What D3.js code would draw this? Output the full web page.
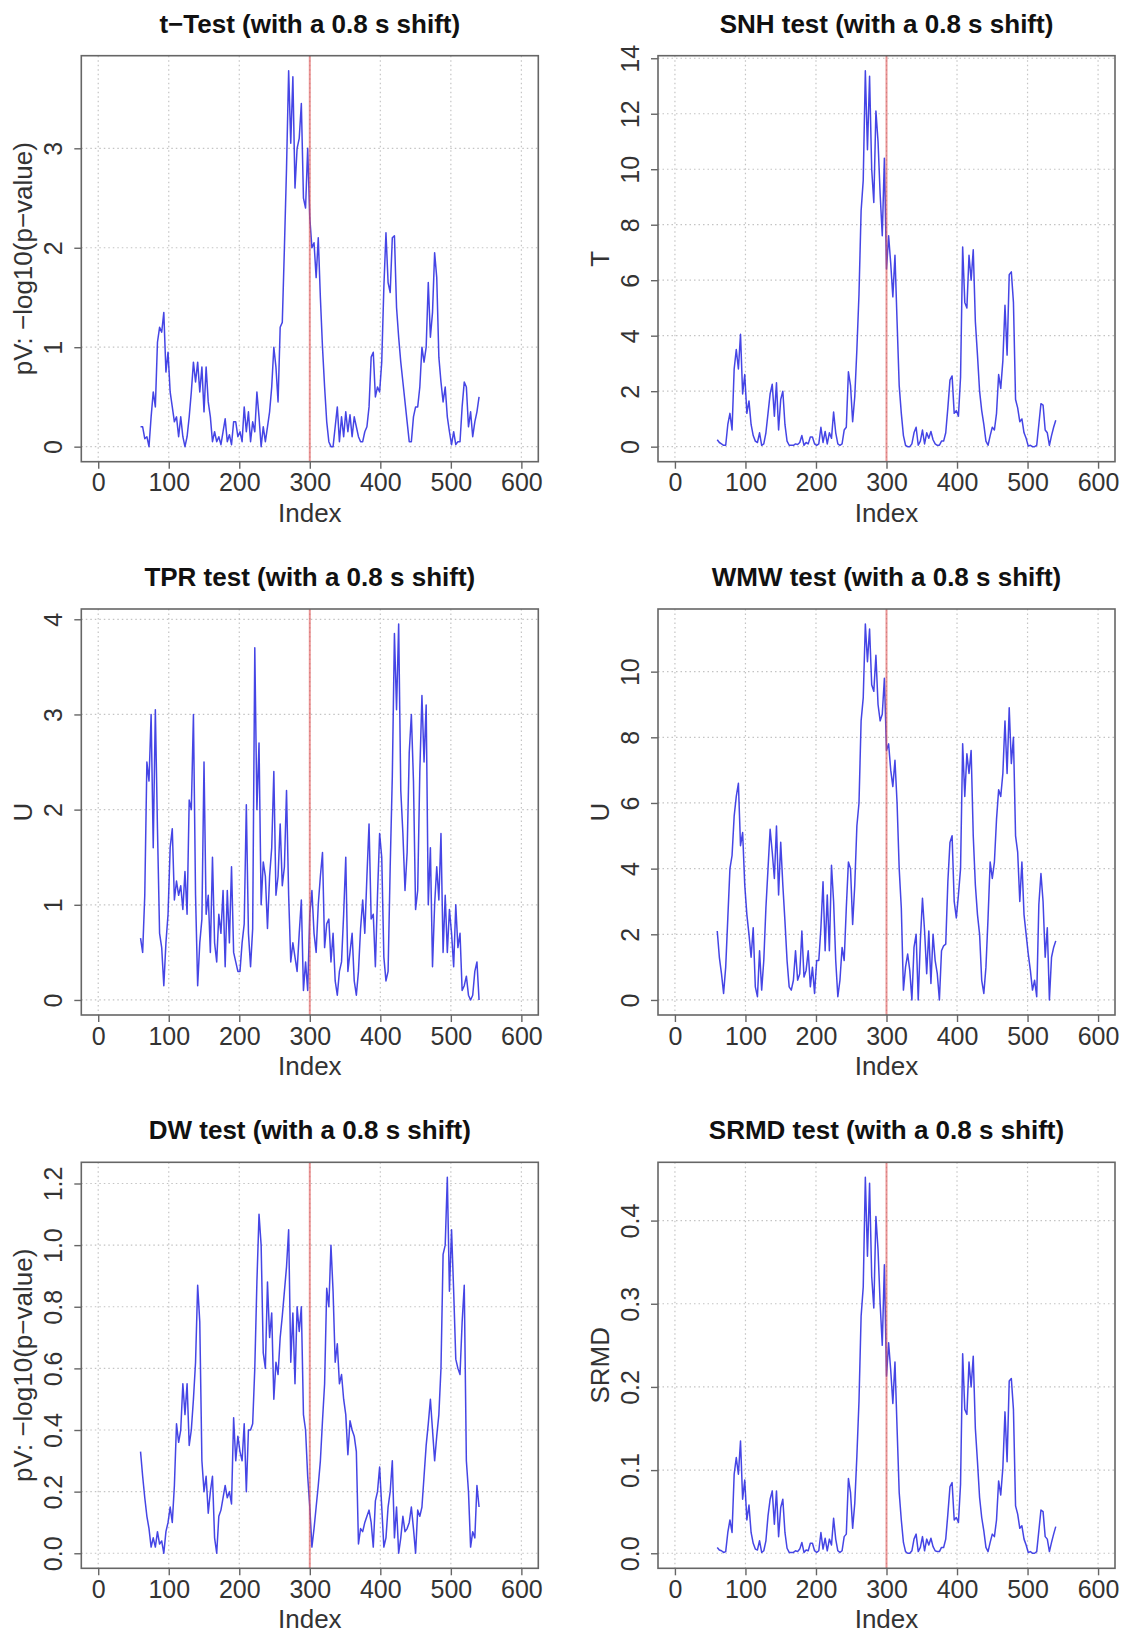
<!DOCTYPE html>
<html>
<head>
<meta charset="utf-8">
<script src="https://cdn.jsdelivr.net/npm/d3@7"></script>
<style>
  body { margin: 0; background: #fff; }
  svg { display: block; font-family: "Liberation Sans", Arial, Helvetica, sans-serif; }
</style>
</head>
<body>
<svg width="1128" height="1634"></svg>
<script>
// values, one every 3rd index, starting at index 60
var firstIndex = 60, indexStep = 3;

var tTest = [
  0.20,0.20,0.08,0.10,0.00,0.30,0.55,0.40,1.05,1.20,
  1.15,1.35,0.75,0.95,0.55,0.40,0.25,0.30,0.10,0.30,
  0.10,0.00,0.10,0.30,0.55,0.85,0.65,0.85,0.55,0.80,
  0.35,0.80,0.45,0.30,0.05,0.15,0.05,0.10,0.02,0.15,
  0.28,0.05,0.12,0.02,0.25,0.25,0.10,0.15,0.05,0.40,
  0.15,0.35,0.05,0.25,0.15,0.55,0.30,0.00,0.20,0.05,
  0.20,0.35,0.60,1.00,0.80,0.45,1.20,1.25,2.00,2.80,
  3.78,3.05,3.72,2.60,3.00,3.10,3.45,2.50,2.40,3.00,
  2.30,2.00,2.05,1.70,2.10,1.50,1.00,0.60,0.25,0.05,
  0.00,0.00,0.20,0.40,0.05,0.30,0.10,0.35,0.15,0.32,
  0.10,0.30,0.20,0.10,0.05,0.05,0.15,0.20,0.40,0.90,
  0.95,0.50,0.60,0.55,0.85,1.60,2.15,1.65,1.55,2.10,
  2.12,1.40,1.10,0.85,0.65,0.45,0.25,0.05,0.05,0.30,
  0.40,0.40,0.60,1.00,0.85,1.00,1.65,1.10,1.35,1.95,
  1.70,0.90,0.65,0.45,0.60,0.30,0.15,0.02,0.15,0.02,
  0.05,0.05,0.40,0.65,0.60,0.20,0.35,0.10,0.25,0.35,
  0.50
];

var snh = [
  0.25,0.15,0.10,0.05,0.05,0.80,1.20,0.60,2.80,3.50,
  2.80,4.05,1.90,2.60,1.20,1.65,0.80,0.40,0.20,0.15,
  0.50,0.05,0.10,0.50,1.20,1.90,2.25,1.10,2.30,0.60,
  1.70,2.00,0.80,0.20,0.05,0.05,0.05,0.10,0.08,0.15,
  0.40,0.05,0.15,0.10,0.35,0.35,0.10,0.05,0.10,0.70,
  0.15,0.55,0.10,0.50,0.30,1.25,0.50,0.10,0.05,0.10,
  0.60,0.70,2.70,2.20,0.90,1.80,3.50,5.50,8.50,9.60,
  13.55,10.70,13.35,10.00,8.80,12.10,11.00,9.10,7.60,10.40,
  6.40,7.60,6.60,5.40,6.90,4.50,2.20,1.20,0.40,0.05,
  0.00,0.00,0.10,0.50,0.70,0.05,0.20,0.60,0.10,0.50,
  0.30,0.55,0.25,0.10,0.05,0.05,0.20,0.20,0.50,1.40,
  2.40,2.55,1.20,1.30,1.10,2.50,7.20,5.20,5.00,6.90,
  6.00,7.10,4.50,3.30,2.00,1.30,0.80,0.20,0.05,0.40,
  0.70,0.60,1.20,2.60,2.10,3.10,5.10,3.30,6.20,6.30,
  5.20,1.70,1.40,0.90,1.00,0.50,0.30,0.02,0.05,0.00,
  0.00,0.05,0.80,1.55,1.50,0.60,0.50,0.05,0.40,0.70,
  0.95
];

var tpr = [
  0.65,0.50,1.10,2.50,2.30,3.00,1.60,3.05,1.80,0.70,
  0.55,0.15,0.60,0.90,1.60,1.80,1.05,1.25,1.10,1.20,
  0.95,1.35,0.90,2.10,2.00,3.00,1.10,0.15,0.60,0.85,
  2.50,0.90,1.10,0.50,1.50,0.60,0.40,0.90,0.70,1.15,
  0.35,1.15,0.60,1.40,0.50,0.40,0.30,0.30,0.60,0.80,
  2.05,0.70,0.35,0.75,3.70,2.00,2.70,1.00,1.45,1.30,
  0.75,1.30,1.60,2.40,1.10,1.30,1.85,1.20,1.40,2.20,
  1.10,0.40,0.60,0.45,0.30,0.70,1.05,0.10,0.40,0.10,
  0.90,1.15,0.70,0.50,1.00,1.30,1.55,0.55,0.80,0.85,
  0.40,0.70,0.20,0.05,0.30,0.40,0.90,1.50,0.30,0.50,
  0.70,0.20,0.05,0.30,0.75,1.05,0.70,1.30,1.85,0.85,
  0.90,0.35,1.10,1.75,1.50,0.45,0.20,0.30,1.40,2.35,
  3.85,3.05,3.95,2.20,1.75,1.15,1.55,2.60,3.00,2.30,
  0.95,1.15,2.40,3.20,2.50,3.10,1.00,1.60,0.35,1.00,
  1.40,1.05,1.75,0.50,1.10,0.50,0.95,0.70,0.35,1.00,
  0.55,0.70,0.10,0.15,0.25,0.05,0.00,0.05,0.30,0.40,
  0.00
];

var wmw = [
  2.10,1.30,0.80,0.20,1.00,2.50,4.00,4.40,5.60,6.20,
  6.60,4.70,5.10,3.50,2.60,2.00,1.30,2.20,0.40,0.10,
  1.50,0.30,1.20,2.80,4.00,5.20,4.50,3.70,5.30,3.20,
  4.80,3.50,2.40,1.20,0.40,0.30,0.60,1.50,0.60,0.80,
  2.10,0.70,0.90,1.50,0.40,1.00,0.20,1.20,1.20,2.20,
  3.60,1.50,3.20,1.50,4.10,3.00,1.20,0.10,0.60,1.60,
  1.20,2.80,4.20,4.00,2.30,3.50,5.30,6.00,8.50,9.20,
  11.45,10.30,11.30,9.60,9.40,10.50,9.00,8.50,8.70,9.80,
  7.60,7.80,7.00,6.50,7.30,6.00,4.00,2.80,0.30,1.00,
  1.40,0.90,0.00,1.60,2.00,0.00,1.80,3.10,2.10,0.80,
  2.10,0.50,2.00,1.20,0.80,0.00,1.50,1.65,1.70,3.60,
  4.80,5.00,3.00,2.50,3.20,4.00,7.80,6.20,7.50,6.90,
  7.60,5.00,3.50,2.60,2.00,0.60,0.20,1.00,2.50,4.20,
  3.70,4.20,5.50,6.40,6.20,6.90,8.50,6.90,8.90,7.20,
  8.00,5.00,4.50,3.00,4.20,2.60,2.00,1.40,0.90,0.30,
  0.60,0.10,2.90,3.85,3.00,1.30,2.20,0.00,1.30,1.60,
  1.80
];

var dw = [
  0.33,0.25,0.18,0.12,0.08,0.02,0.05,0.02,0.07,0.03,
  0.04,0.00,0.07,0.10,0.15,0.10,0.22,0.42,0.36,0.40,
  0.55,0.45,0.55,0.35,0.40,0.50,0.62,0.87,0.75,0.30,
  0.20,0.25,0.13,0.20,0.25,0.05,0.00,0.12,0.14,0.18,
  0.22,0.18,0.20,0.16,0.44,0.30,0.38,0.33,0.30,0.42,
  0.20,0.40,0.40,0.42,0.60,0.88,1.10,1.00,0.65,0.60,
  0.88,0.70,0.78,0.50,0.62,0.58,0.70,0.77,0.85,0.93,
  1.05,0.62,0.78,0.55,0.80,0.72,0.80,0.45,0.40,0.25,
  0.15,0.02,0.08,0.15,0.22,0.30,0.43,0.55,0.86,0.80,
  1.00,0.85,0.62,0.68,0.55,0.58,0.50,0.45,0.32,0.43,
  0.40,0.38,0.33,0.03,0.08,0.07,0.10,0.12,0.14,0.10,
  0.02,0.17,0.20,0.28,0.15,0.02,0.05,0.15,0.20,0.30,
  0.05,0.15,0.00,0.05,0.12,0.07,0.08,0.10,0.15,0.08,
  0.00,0.14,0.12,0.15,0.25,0.35,0.42,0.50,0.40,0.30,
  0.38,0.45,0.60,0.97,1.00,1.22,0.85,1.05,0.85,0.63,
  0.60,0.58,0.75,0.87,0.30,0.20,0.02,0.07,0.05,0.22,
  0.15
];

var srmd = [
  0.007,0.004,0.003,0.001,0.002,0.025,0.040,0.025,0.095,0.115,
  0.095,0.135,0.065,0.088,0.040,0.058,0.025,0.012,0.005,0.004,
  0.015,0.001,0.003,0.015,0.045,0.065,0.075,0.035,0.075,0.020,
  0.055,0.065,0.025,0.006,0.001,0.001,0.001,0.003,0.002,0.005,
  0.013,0.001,0.004,0.003,0.012,0.012,0.003,0.001,0.003,0.025,
  0.005,0.018,0.003,0.017,0.010,0.042,0.017,0.003,0.001,0.003,
  0.020,0.023,0.090,0.073,0.030,0.060,0.117,0.183,0.285,0.320,
  0.452,0.357,0.445,0.333,0.295,0.405,0.365,0.300,0.250,0.347,
  0.213,0.253,0.220,0.180,0.230,0.150,0.073,0.040,0.013,0.002,
  0.000,0.000,0.003,0.017,0.023,0.002,0.007,0.020,0.003,0.017,
  0.010,0.018,0.008,0.003,0.002,0.002,0.007,0.007,0.017,0.047,
  0.080,0.085,0.040,0.043,0.037,0.083,0.240,0.173,0.167,0.230,
  0.200,0.237,0.150,0.110,0.067,0.043,0.027,0.007,0.002,0.013,
  0.023,0.020,0.040,0.087,0.070,0.103,0.170,0.110,0.207,0.210,
  0.173,0.057,0.047,0.030,0.033,0.017,0.010,0.001,0.002,0.000,
  0.000,0.002,0.027,0.052,0.050,0.020,0.017,0.002,0.013,0.023,
  0.032
];

var titles = [
  "t\u2212Test (with a 0.8 s shift)",
  "SNH test (with a 0.8 s shift)",
  "TPR test (with a 0.8 s shift)",
  "WMW test (with a 0.8 s shift)",
  "DW test (with a 0.8 s shift)",
  "SRMD test (with a 0.8 s shift)"
];
var yLabels = ["pV: \u2212log10(p\u2212value)", "T", "U", "U", "pV: \u2212log10(p\u2212value)", "SRMD"];
var yTicks = [
  [0, 1, 2, 3],
  [0, 2, 4, 6, 8, 10, 12, 14],
  [0, 1, 2, 3, 4],
  [0, 2, 4, 6, 8, 10],
  [0, 0.2, 0.4, 0.6, 0.8, 1.0, 1.2],
  [0, 0.1, 0.2, 0.3, 0.4]
];
var yTickLabels = [
  ["0", "1", "2", "3"],
  ["0", "2", "4", "6", "8", "10", "12", "14"],
  ["0", "1", "2", "3", "4"],
  ["0", "2", "4", "6", "8", "10"],
  ["0.0", "0.2", "0.4", "0.6", "0.8", "1.0", "1.2"],
  ["0.0", "0.1", "0.2", "0.3", "0.4"]
];
var xTicks = [0, 100, 200, 300, 400, 500, 600];
var xTickLabels = ["0", "100", "200", "300", "400", "500", "600"];
var xLimits = [0, 600];
var shiftIndex = 300;

var series = [tTest, snh, tpr, wmw, dw, srmd];

// layout of the 3 x 2 panels (plot boxes)
var colLeft = [81.3, 658], rowTop = [55.7, 609, 1162.3];
var W = 457, H = 406;

var svg = d3.select("svg");
svg.append("rect").attr("width", 1128).attr("height", 1634).attr("fill", "#fff");

series.forEach(function (vals, i) {
  var g = svg.append("g")
    .attr("transform", "translate(" + colLeft[i % 2] + "," + rowTop[Math.floor(i / 2)] + ")");

  // R style: 4% extension of the range on both axes
  var xr = xLimits[1] - xLimits[0];
  var x = d3.scaleLinear().domain([xLimits[0] - 0.04 * xr, xLimits[1] + 0.04 * xr]).range([0, W]);
  var ext = d3.extent(vals), pad = (ext[1] - ext[0]) * 0.04;
  var y = d3.scaleLinear().domain([ext[0] - pad, ext[1] + pad]).range([H, 0]);

  // dotted grid
  var grid = g.append("g").attr("stroke", "#c4c4c4").attr("stroke-width", 1.2)
    .attr("stroke-dasharray", "1.5,3");
  grid.selectAll("line.gx").data(xTicks).enter().append("line")
    .attr("class", "gx")
    .attr("x1", function (d) { return x(d); }).attr("x2", function (d) { return x(d); })
    .attr("y1", 0).attr("y2", H);
  grid.selectAll("line.gy").data(yTicks[i]).enter().append("line")
    .attr("class", "gy")
    .attr("y1", function (d) { return y(d); }).attr("y2", function (d) { return y(d); })
    .attr("x1", 0).attr("x2", W);

  // series
  var line = d3.line()
    .x(function (d, j) { return x(firstIndex + j * indexStep); })
    .y(function (d) { return y(d); });
  g.append("path")
    .datum(vals)
    .attr("d", line)
    .attr("fill", "none")
    .attr("stroke", "#2424e0")
    .attr("stroke-opacity", 0.85)
    .attr("stroke-width", 1.5)
    .attr("stroke-linejoin", "round");

  // shift marker
  g.append("line")
    .attr("x1", x(shiftIndex)).attr("x2", x(shiftIndex))
    .attr("y1", 0).attr("y2", H)
    .attr("stroke", "#e05050").attr("stroke-opacity", 0.6).attr("stroke-width", 2);

  // box
  g.append("rect")
    .attr("width", W).attr("height", H)
    .attr("fill", "none").attr("stroke", "#666").attr("stroke-width", 1.6);

  // x axis
  var ax = g.append("g").attr("transform", "translate(0," + H + ")")
    .call(d3.axisBottom(x).tickValues(xTicks)
      .tickFormat(function (d, k) { return xTickLabels[k]; })
      .tickSize(7).tickPadding(5));
  ax.select(".domain").remove();
  ax.selectAll(".tick line").attr("stroke", "#666").attr("stroke-width", 1.4);
  ax.selectAll(".tick text").attr("fill", "#333").attr("font-size", 25)
    .attr("font-family", null);

  // y axis, labels parallel to the axis as in R
  var ay = g.append("g")
    .call(d3.axisLeft(y).tickValues(yTicks[i])
      .tickFormat(function (d, k) { return yTickLabels[i][k]; })
      .tickSize(7));
  ay.select(".domain").remove();
  ay.selectAll(".tick line").attr("stroke", "#666").attr("stroke-width", 1.4);
  ay.selectAll(".tick text")
    .attr("x", null).attr("dy", null)
    .attr("text-anchor", "middle")
    .attr("transform", "translate(-19,0) rotate(-90)")
    .attr("fill", "#333").attr("font-size", 25)
    .attr("font-family", null);

  // titles
  g.append("text")
    .attr("x", W / 2).attr("y", -23)
    .attr("text-anchor", "middle")
    .attr("font-weight", "bold").attr("font-size", 26).attr("fill", "#111")
    .text(titles[i]);
  g.append("text")
    .attr("x", W / 2).attr("y", H + 60)
    .attr("text-anchor", "middle")
    .attr("font-size", 26).attr("fill", "#333")
    .text("Index");
  g.append("text")
    .attr("transform", "translate(-49," + (H / 2) + ") rotate(-90)")
    .attr("text-anchor", "middle")
    .attr("font-size", 26).attr("fill", "#333")
    .text(yLabels[i]);
});
</script>
</body>
</html>
